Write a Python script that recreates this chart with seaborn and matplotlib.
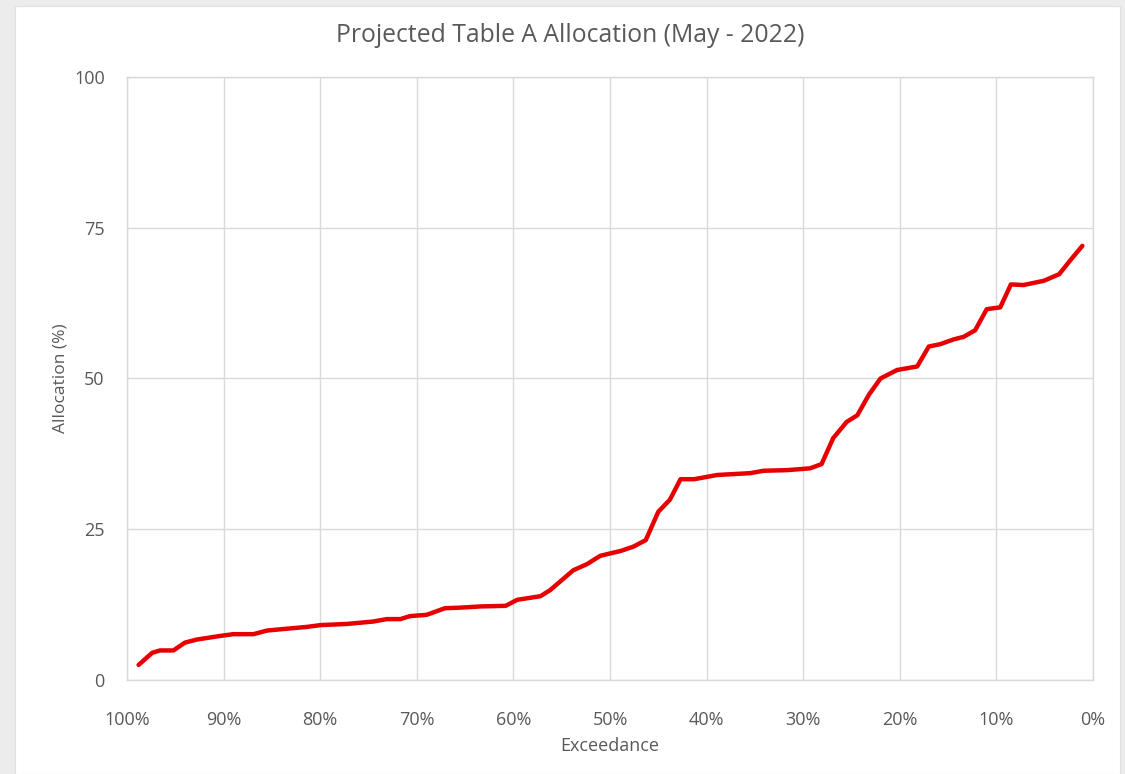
import matplotlib
matplotlib.use("Agg")
import matplotlib.pyplot as plt
import matplotlib.patches as mpatches
import pandas as pd
import seaborn as sns

# values
exceedance = [98.8, 97.4, 96.6, 95.2, 94.0, 92.8, 90.4, 89.0, 86.9, 85.5,
              83.5, 81.4, 80.0, 77.2, 74.5, 73.1, 71.7, 70.7, 69.0, 68.3,
              67.1, 65.5, 63.4, 60.8, 59.6, 57.2, 56.2, 53.8, 52.4, 51.0,
              48.9, 47.6, 46.3, 45.0, 43.8, 42.7, 41.3, 38.9, 35.5, 34.1,
              31.7, 29.3, 28.1, 26.9, 25.5, 24.4, 23.2, 22.0, 20.3, 18.2,
              17.0, 15.8, 14.4, 13.4, 12.2, 11.0, 9.6, 8.5, 7.2, 5.1,
              3.5, 2.3, 1.1]
allocation = [2.5, 4.5, 4.9, 4.9, 6.2, 6.7, 7.3, 7.6, 7.6, 8.2,
              8.5, 8.8, 9.1, 9.3, 9.7, 10.1, 10.1, 10.6, 10.8, 11.2,
              11.9, 12.0, 12.2, 12.3, 13.3, 13.9, 14.9, 18.2, 19.2, 20.6,
              21.4, 22.1, 23.2, 27.9, 29.9, 33.3, 33.3, 34.0, 34.3, 34.7,
              34.8, 35.1, 35.8, 40.1, 42.8, 43.9, 47.3, 50.0, 51.4, 52.0,
              55.3, 55.7, 56.5, 56.9, 58.0, 61.5, 61.8, 65.6, 65.5, 66.2,
              67.3, 69.7, 72.0]
x_ticks = [100, 90, 80, 70, 60, 50, 40, 30, 20, 10, 0]
y_ticks = [0, 25, 50, 75, 100]

df = pd.DataFrame({"Exceedance": exceedance, "Allocation": allocation})

sns.set_style("white")
plt.rcParams["font.family"] = ["Open Sans", "DejaVu Sans"]
text_color = "#595959"
grid_color = "#d9d9d9"

fig = plt.figure(figsize=(11.25, 7.74), dpi=100, facecolor="#ececec")
# white chart panel inside the grey screenshot margin
fig.patches.append(mpatches.Rectangle((15 / 1125, 0), 1105 / 1125, 768 / 774,
                                      transform=fig.transFigure, facecolor="white",
                                      edgecolor="#e0e0e0", linewidth=0.8, zorder=-10))

ax = fig.add_axes([127 / 1125, 1 - 680 / 774, 966 / 1125, 603 / 774])
ax.set_zorder(1)
sns.lineplot(data=df, x="Exceedance", y="Allocation", color="#e60000",
             linewidth=3.2, ax=ax)

ax.set_xlim(100, 0)
ax.set_ylim(0, 100)
ax.set_xticks(x_ticks)
ax.set_xticklabels([f"{t}%" for t in x_ticks])
ax.set_yticks(y_ticks)
ax.grid(True, color=grid_color, linewidth=1.0)
for spine in ax.spines.values():
    spine.set_visible(True)
    spine.set_color(grid_color)
    spine.set_linewidth(1.0)
ax.tick_params(colors=text_color, labelsize=13, length=0)
ax.tick_params(axis="x", pad=22)
ax.tick_params(axis="y", pad=16)

ax.set_xlabel("Exceedance", color=text_color, fontsize=13, labelpad=6)
ax.set_ylabel("Allocation (%)", color=text_color, fontsize=12.5, labelpad=4)
fig.text(570 / 1125, 1 - 36 / 774, "Projected Table A Allocation (May - 2022)",
         color=text_color, fontsize=17.8, ha="center", va="center")

fig.savefig("out.png", dpi=100, facecolor=fig.get_facecolor())
